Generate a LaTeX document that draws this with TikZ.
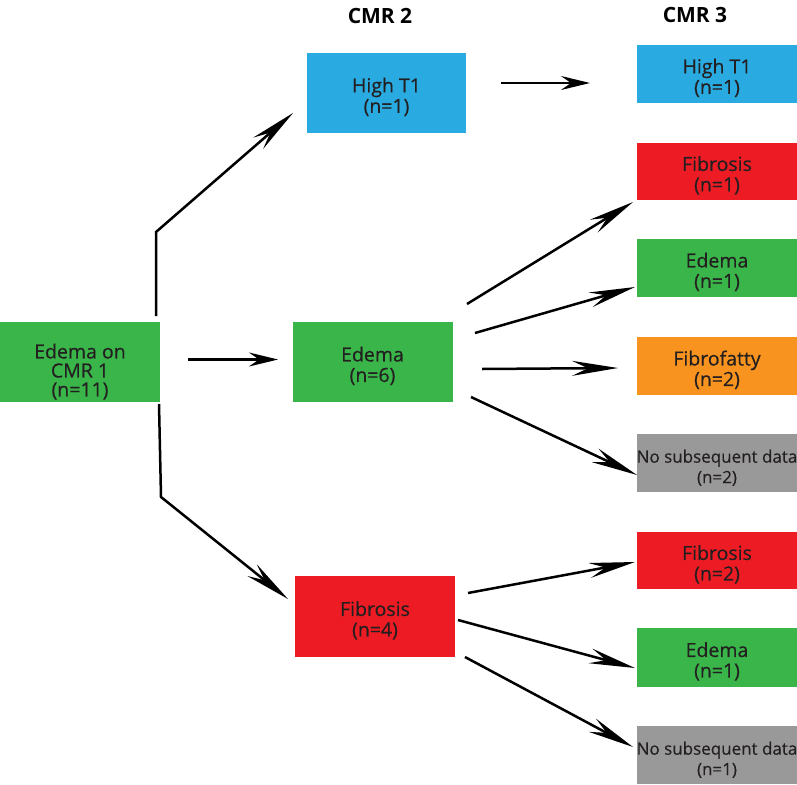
\documentclass[tikz,border=0pt]{standalone}
\usepackage{fontspec}
\setmainfont{Open Sans}
\newfontfamily\boxfont{Open Sans}[FakeBold=0.4]
\usetikzlibrary{arrows.meta}
\definecolor{cblue}{HTML}{29ABE2}
\definecolor{cred}{HTML}{ED1C24}
\definecolor{cgreen}{HTML}{39B54A}
\definecolor{corange}{HTML}{F7931E}
\definecolor{cgray}{HTML}{999999}
\definecolor{ctext}{HTML}{231F20}
\newcommand\lowtext{\rule{0pt}{22.5pt}}
\newcommand\lowertext{\rule{0pt}{34pt}}
\tikzset{
  box/.style={rectangle, inner sep=0pt, draw=none, align=center, text=ctext,
    minimum width=160pt, font=\boxfont\fontsize{19.5}{20.5}\selectfont},
  bigbox/.style={box, minimum height=80pt},
  smallbox/.style={box, minimum height=58pt},
  title/.style={font=\bfseries\fontsize{21}{24}\selectfont, text=black, inner sep=0pt},
  conn/.style={line width=2.5pt, black,
    -{Stealth[length=46pt,width=15pt,inset=16pt]}},
  shortconn/.style={line width=2.5pt, black,
    -{Stealth[length=29pt,width=14pt,inset=10pt]}},
}
\begin{document}
\begin{tikzpicture}[x=1pt,y=-1pt]
\useasboundingbox (0,0) rectangle (797,784);
% titles
\node[title] (t2) at (380,16) {CMR 2};
\node[title] (t3) at (695,15) {CMR 3};
% CMR 1
\node[bigbox, fill=cgreen, font=\boxfont\fontsize{19.5}{19}\selectfont] (c1) at (80,362) {\lowertext Edema on\\CMR 1\\(n=11)};
% CMR 2
\node[bigbox, fill=cblue, minimum width=159pt] (h2) at (386.5,93) {\lowtext High T1\\(n=1)};
\node[bigbox, fill=cgreen] (e2) at (372.5,362) {\lowtext Edema\\(n=6)};
\node[bigbox, fill=cred, minimum height=81pt] (f2) at (375,616.5) {\lowtext Fibrosis\\(n=4)};
% CMR 3
\node[smallbox, fill=cblue] (h3) at (717,74) {\lowtext High T1\\(n=1)};
\node[smallbox, fill=cred, minimum height=57pt] (f3) at (717,171.5) {\lowtext Fibrosis\\(n=1)};
\node[smallbox, fill=cgreen] (e3) at (717,268) {\lowtext Edema\\(n=1)};
\node[smallbox, fill=corange] (ff3) at (717,366) {\lowtext Fibrofatty\\(n=2)};
\node[smallbox, fill=cgray, font=\boxfont\fontsize{17}{20.5}\selectfont] (n3a) at (717,463) {\lowtext No subsequent data\\(n=2)};
\node[smallbox, fill=cred, minimum height=57pt] (f3b) at (717,560.5) {\lowtext Fibrosis\\(n=2)};
\node[smallbox, fill=cgreen, minimum height=59pt] (e3b) at (717,657.5) {\lowtext Edema\\(n=1)};
\node[smallbox, fill=cgray, font=\boxfont\fontsize{17}{20.5}\selectfont] (n3b) at (717,755) {\lowtext No subsequent data\\(n=1)};
% connector end points
\coordinate (c1top) at (156,316);
\coordinate (c1topbend) at (156,232);
\coordinate (h2in) at (293,113);
\coordinate (c1out) at (188,359.5);
\coordinate (e2in) at (278,359.5);
\coordinate (c1bot) at (159,404);
\coordinate (c1botbend) at (161,497);
\coordinate (f2in) at (288,599);
\coordinate (h2out) at (501,83);
\coordinate (h3in) at (590,83);
\coordinate (e2o1) at (467,304);
\coordinate (f3in) at (633,202);
\coordinate (e2o2) at (475,333);
\coordinate (e3in) at (635,287);
\coordinate (e2o3) at (482,369);
\coordinate (ff3in) at (618,368);
\coordinate (e2o4) at (471,397);
\coordinate (n3ain) at (637,475);
\coordinate (f2o1) at (468,593);
\coordinate (f3bin) at (635,562);
\coordinate (f2o2) at (458,620);
\coordinate (e3bin) at (635,668);
\coordinate (f2o3) at (465,657);
\coordinate (n3bin) at (633,747);
% connectors
\draw[conn, line join=miter] (c1top) -- (c1topbend) -- (h2in);
\draw[shortconn] (c1out) -- (e2in);
\draw[conn, line join=miter] (c1bot) -- (c1botbend) -- (f2in);
\draw[shortconn] (h2out) -- (h3in);
\draw[conn] (e2o1) -- (f3in);
\draw[conn] (e2o2) -- (e3in);
\draw[conn] (e2o3) -- (ff3in);
\draw[conn] (e2o4) -- (n3ain);
\draw[conn] (f2o1) -- (f3bin);
\draw[conn] (f2o2) -- (e3bin);
\draw[conn] (f2o3) -- (n3bin);
\end{tikzpicture}
\end{document}
